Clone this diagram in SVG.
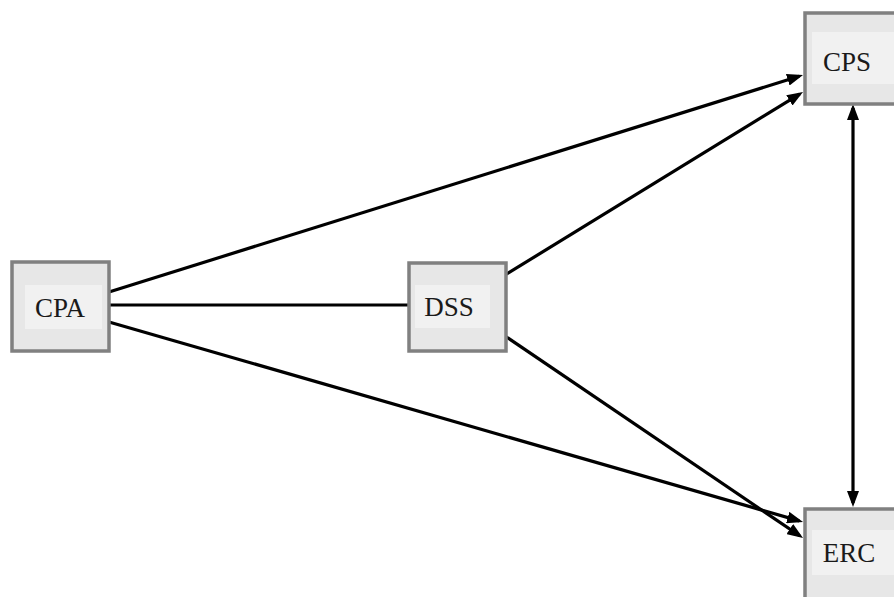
<svg xmlns="http://www.w3.org/2000/svg" width="894" height="597" viewBox="0 0 894 597">
<style>
.box{fill:#e7e7e7;stroke:#808080;stroke-width:3.5}
.inner{fill:#f1f1f1}
.lbl{font-family:"Liberation Serif","Times New Roman",serif;font-size:27px;fill:#1a1a1a;text-anchor:middle}
.edge{stroke:#000;stroke-width:3.2;fill:none}
</style>
<defs>
<marker id="ah" markerUnits="userSpaceOnUse" markerWidth="16" markerHeight="12" refX="12" refY="6" orient="auto-start-reverse">
<path d="M0,0 L16,6 L0,12 z" fill="#000"/>
</marker>
</defs>
<rect width="894" height="597" fill="#fff"/>
<g id="connectors">
<line class="edge" x1="109" y1="292" x2="799.2" y2="76.2" marker-end="url(#ah)"/>
<line class="edge" x1="109" y1="305" x2="408" y2="305"/>
<line class="edge" x1="109" y1="322" x2="799.2" y2="520.9" marker-end="url(#ah)"/>
<line class="edge" x1="505" y1="275" x2="799.6" y2="94.1" marker-end="url(#ah)"/>
<line class="edge" x1="505" y1="336" x2="799.7" y2="535.8" marker-end="url(#ah)"/>
<line class="edge" x1="853" y1="108" x2="853" y2="503" marker-start="url(#ah)" marker-end="url(#ah)"/>
</g>
<g id="CPA">
<rect class="box" x="12" y="262" width="97" height="89"/>
<rect class="inner" x="25" y="285" width="77" height="44"/>
<text class="lbl" x="60" y="317">CPA</text>
</g>
<g id="DSS">
<rect class="box" x="409" y="263" width="97" height="88"/>
<rect class="inner" x="415" y="285" width="75" height="43"/>
<text class="lbl" x="449" y="316">DSS</text>
</g>
<g id="CPS">
<rect class="box" x="805" y="13" width="100" height="91"/>
<rect class="inner" x="812" y="32" width="90" height="52"/>
<text class="lbl" x="847" y="71">CPS</text>
</g>
<g id="ERC">
<rect class="box" x="805" y="509" width="100" height="100"/>
<rect class="inner" x="812" y="530" width="90" height="45"/>
<text class="lbl" x="849" y="562">ERC</text>
</g>
</svg>
